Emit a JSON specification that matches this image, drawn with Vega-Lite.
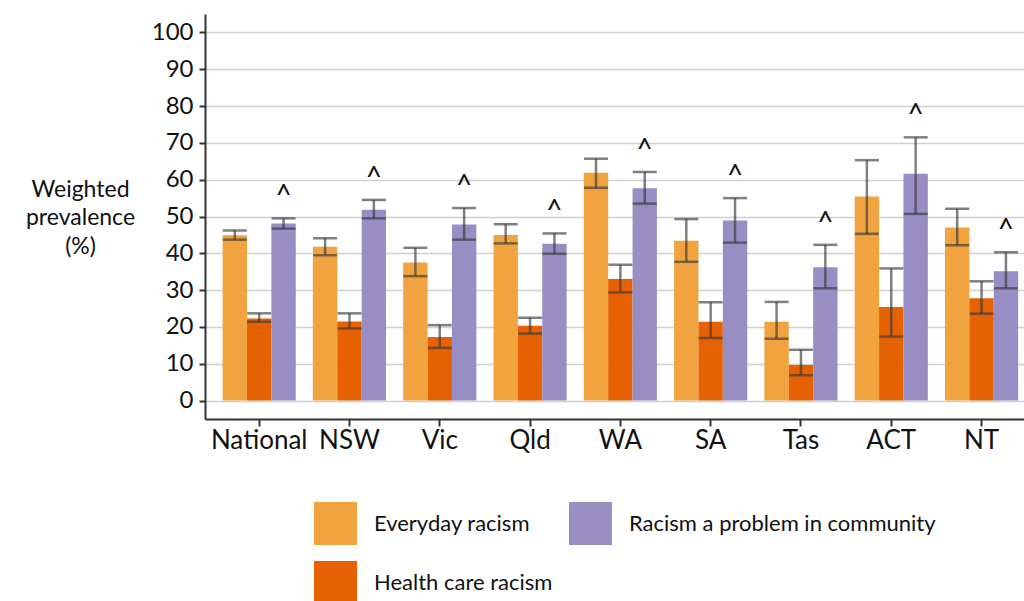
{
  "$schema": "https://vega.github.io/schema/vega-lite/v6.json",
  "width": 819,
  "height": 405,
  "autosize": {"type": "none"},
  "padding": {"left": 205, "top": 14, "right": 0, "bottom": 182},
  "config": {
    "font": "Lato",
    "view": {"stroke": null},
    "axis": {"labelColor": "#111111", "titleColor": "#111111", "domainColor": "#333333", "domainWidth": 2, "tickColor": "#333333", "tickWidth": 2}
  },
  "data": {
    "values": [
      {"region": "National", "measure": "Everyday racism", "value": 44.9, "lower": 43.7, "upper": 46.2, "flag": ""},
      {"region": "National", "measure": "Health care racism", "value": 22.3, "lower": 21.4, "upper": 23.7, "flag": ""},
      {"region": "National", "measure": "Racism a problem in community", "value": 48.1, "lower": 46.7, "upper": 49.5, "flag": "^"},
      {"region": "NSW", "measure": "Everyday racism", "value": 41.8, "lower": 39.5, "upper": 44.1, "flag": ""},
      {"region": "NSW", "measure": "Health care racism", "value": 21.5, "lower": 19.6, "upper": 23.7, "flag": ""},
      {"region": "NSW", "measure": "Racism a problem in community", "value": 51.8, "lower": 49.5, "upper": 54.5, "flag": "^"},
      {"region": "Vic", "measure": "Everyday racism", "value": 37.5, "lower": 33.8, "upper": 41.5, "flag": ""},
      {"region": "Vic", "measure": "Health care racism", "value": 17.3, "lower": 14.3, "upper": 20.5, "flag": ""},
      {"region": "Vic", "measure": "Racism a problem in community", "value": 47.8, "lower": 43.7, "upper": 52.3, "flag": "^"},
      {"region": "Qld", "measure": "Everyday racism", "value": 45.0, "lower": 42.7, "upper": 47.9, "flag": ""},
      {"region": "Qld", "measure": "Health care racism", "value": 20.3, "lower": 18.2, "upper": 22.5, "flag": ""},
      {"region": "Qld", "measure": "Racism a problem in community", "value": 42.6, "lower": 39.9, "upper": 45.4, "flag": "^"},
      {"region": "WA", "measure": "Everyday racism", "value": 61.9, "lower": 57.8, "upper": 65.7, "flag": ""},
      {"region": "WA", "measure": "Health care racism", "value": 33.0, "lower": 29.4, "upper": 36.9, "flag": ""},
      {"region": "WA", "measure": "Racism a problem in community", "value": 57.7, "lower": 53.5, "upper": 62.1, "flag": "^"},
      {"region": "SA", "measure": "Everyday racism", "value": 43.4, "lower": 37.7, "upper": 49.3, "flag": ""},
      {"region": "SA", "measure": "Health care racism", "value": 21.4, "lower": 17.0, "upper": 26.7, "flag": ""},
      {"region": "SA", "measure": "Racism a problem in community", "value": 48.9, "lower": 42.9, "upper": 55.0, "flag": "^"},
      {"region": "Tas", "measure": "Everyday racism", "value": 21.4, "lower": 16.8, "upper": 26.8, "flag": ""},
      {"region": "Tas", "measure": "Health care racism", "value": 9.7, "lower": 6.9, "upper": 13.8, "flag": ""},
      {"region": "Tas", "measure": "Racism a problem in community", "value": 36.2, "lower": 30.5, "upper": 42.3, "flag": "^"},
      {"region": "ACT", "measure": "Everyday racism", "value": 55.4, "lower": 45.3, "upper": 65.3, "flag": ""},
      {"region": "ACT", "measure": "Health care racism", "value": 25.4, "lower": 17.4, "upper": 35.9, "flag": ""},
      {"region": "ACT", "measure": "Racism a problem in community", "value": 61.6, "lower": 50.7, "upper": 71.5, "flag": "^"},
      {"region": "NT", "measure": "Everyday racism", "value": 47.0, "lower": 42.2, "upper": 52.1, "flag": ""},
      {"region": "NT", "measure": "Health care racism", "value": 27.8, "lower": 23.6, "upper": 32.4, "flag": ""},
      {"region": "NT", "measure": "Racism a problem in community", "value": 35.1, "lower": 30.5, "upper": 40.3, "flag": "^"}
    ]
  },
  "encoding": {
    "x": {
      "field": "region",
      "type": "nominal",
      "sort": ["National", "NSW", "Vic", "Qld", "WA", "SA", "Tas", "ACT", "NT"],
      "scale": {"paddingInner": 0.19, "paddingOuter": 0.13, "align": 0.75},
      "axis": {"title": null, "labelAngle": 0, "labelFontSize": 26, "labelPadding": 1, "tickSize": 7, "grid": false, "labelBaseline": "top"}
    },
    "xOffset": {
      "field": "measure",
      "type": "nominal",
      "sort": ["Everyday racism", "Health care racism", "Racism a problem in community"],
      "scale": {"paddingInner": 0, "paddingOuter": 0}
    }
  },
  "layer": [
    {
      "mark": {"type": "bar"},
      "encoding": {
        "y": {
          "field": "value",
          "type": "quantitative",
          "scale": {"domain": [-5, 105], "nice": false, "zero": false},
          "axis": {
            "values": [0, 10, 20, 30, 40, 50, 60, 70, 80, 90, 100],
            "grid": true,
            "gridColor": "#cfcfcf",
            "gridWidth": 1.3,
            "labelFontSize": 24,
            "tickSize": 6,
            "labelPadding": 6,
            "title": ["Weighted", "prevalence", "(%)"],
            "titleAngle": 0,
            "titleAlign": "center",
            "titleBaseline": "middle",
            "titleFontSize": 23,
            "titleFontWeight": "normal",
            "titleLineHeight": 28.5,
            "titleX": -125,
            "titleY": 175
          }
        },
        "y2": {"datum": 0},
        "color": {
          "field": "measure",
          "type": "nominal",
          "scale": {
            "domain": ["Everyday racism", "Racism a problem in community", "Health care racism"],
            "range": ["#f1a340", "#998ec3", "#e66101"]
          },
          "legend": {
            "orient": "none",
            "legendX": 109,
            "legendY": 488,
            "direction": "horizontal",
            "columns": 2,
            "title": null,
            "symbolType": "square",
            "symbolSize": 1849,
            "symbolStrokeWidth": 0,
            "symbolOpacity": 1,
            "labelFontSize": 22,
            "labelColor": "#111111",
            "labelOffset": 17,
            "rowPadding": 16,
            "columnPadding": 16,
            "padding": 0,
            "labelLimit": 400
          }
        }
      }
    },
    {
      "mark": {"type": "rule", "color": "#3a3a3a", "opacity": 0.65, "strokeWidth": 2.5},
      "encoding": {
        "y": {"field": "lower", "type": "quantitative"},
        "y2": {"field": "upper"}
      }
    },
    {
      "mark": {"type": "tick", "color": "#3a3a3a", "opacity": 0.65, "thickness": 2.5, "size": 24},
      "encoding": {"y": {"field": "lower", "type": "quantitative"}}
    },
    {
      "mark": {"type": "tick", "color": "#3a3a3a", "opacity": 0.65, "thickness": 2.5, "size": 24},
      "encoding": {"y": {"field": "upper", "type": "quantitative"}}
    },
    {
      "mark": {"type": "text", "fontSize": 28, "dy": -13, "baseline": "alphabetic", "color": "#111111"},
      "encoding": {
        "y": {"field": "upper", "type": "quantitative"},
        "text": {"field": "flag"}
      }
    }
  ]
}
